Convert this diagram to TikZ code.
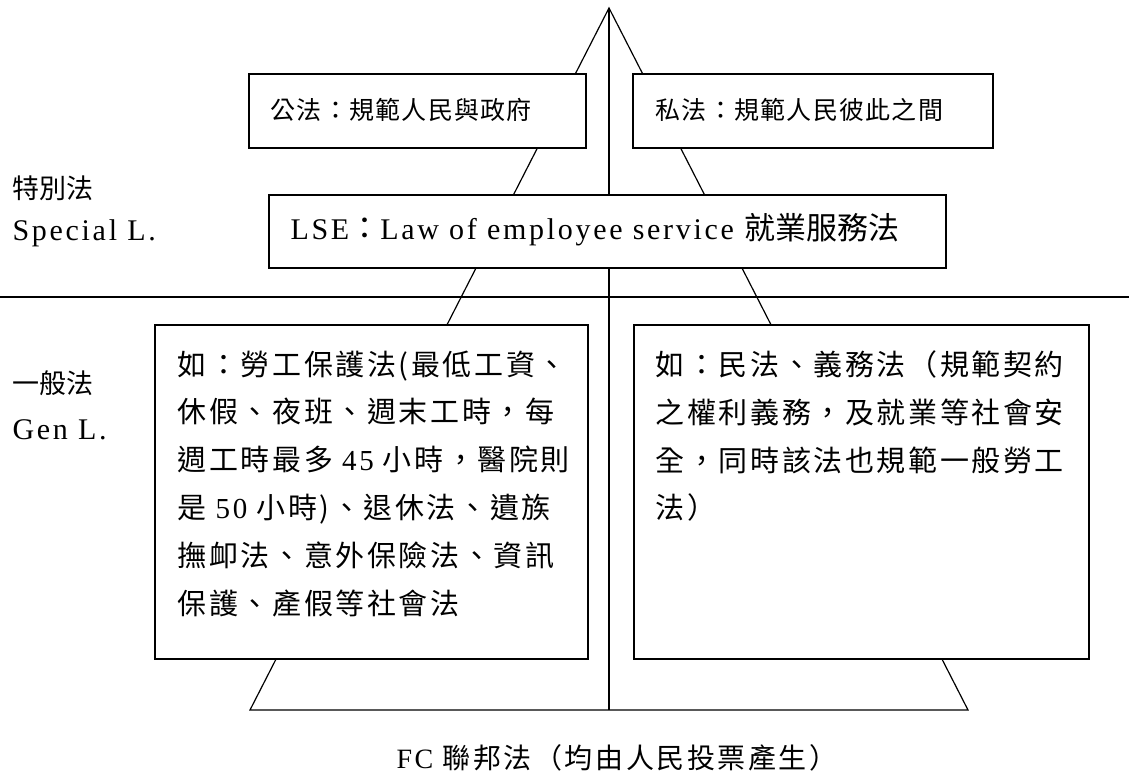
\documentclass[tikz,border=0pt]{standalone}
\usepackage{fontspec}
\setmainfont{Liberation Serif}
\newfontfamily\cjk{Noto Sans CJK TC}
\newfontfamily\cjkA[LetterSpace=5]{Noto Sans CJK TC}
\newfontfamily\cjkB[LetterSpace=9]{Noto Sans CJK TC}
\newfontfamily\cjkW[LetterSpace=9]{Noto Sans CJK TC}
\newfontfamily\lat[LetterSpace=9]{Liberation Serif}
\begin{document}
\begin{tikzpicture}[x=1pt,y=-1pt,line width=1.2pt,
  box/.style={draw,fill=white,line width=2pt,inner sep=0pt,anchor=north west},
  lbl/.style={anchor=west,inner sep=0pt},
  para/.style={anchor=north west,inner sep=0pt,align=left}]
\useasboundingbox (0,0) rectangle (1129,777);
% pyramid
\coordinate (apex) at (609,8);
\coordinate (bl) at (250,710);
\coordinate (br) at (968,710);
\coordinate (bm) at (609,710);
\coordinate (hl) at (0,297);
\coordinate (hr) at (1129,297);
\draw (bl) -- (apex) -- (br) -- cycle;
\draw (apex) -- (bm);
\draw (hl) -- (hr);
% boxes
\node[box,minimum width=337pt,minimum height=74pt] (tl) at (248,73) {};
\node[box,minimum width=360pt,minimum height=74pt] (tr) at (632,73) {};
\node[box,minimum width=677pt,minimum height=73pt] (lse) at (268,194) {};
\node[box,minimum width=433pt,minimum height=334pt] (gl) at (154,324) {};
\node[box,minimum width=455pt,minimum height=334pt] (gr) at (633,324) {};
% texts
\node[lbl,font=\fontsize{25}{29}\cjkA] (tlt) at (270,110) {公法：規範人民與政府};
\node[lbl,font=\fontsize{25}{29}\cjkA] (trt) at (655,110) {私法：規範人民彼此之間};
\node[lbl,font=\fontsize{30}{34}\selectfont] (lset) at (290,230)
  {{\lat LSE}{\fontsize{31}{34}\cjk ：}{\lat Law of employee service }{\fontsize{31}{34}\cjk 就業服務法}};
\node[lbl,font=\fontsize{27}{31}\cjk] (sp1) at (12,188) {特別法};
\node[lbl,font=\fontsize{30}{34}\lat] (sp2) at (12,233) {Special L.};
\node[lbl,font=\fontsize{27}{31}\cjk] (gn1) at (12,383) {一般法};
\node[lbl,font=\fontsize{30}{34}\lat] (gn2) at (12,430) {Gen L.};
\node[para,font=\fontsize{29}{47.8}\cjkW] (glt) at (177,350)
  {如：勞工保護法(最低工資、\\
   休假、夜班、週末工時，每\\
   週工時最多 {\lat 45} 小時，醫院則\\
   是 {\lat 50} 小時)、退休法、遺族\\
   撫卹法、意外保險法、資訊\\
   保護、產假等社會法};
\node[para,font=\fontsize{29}{47.8}\cjkW] (grt) at (655,350)
  {如：民法、義務法（規範契約\\
   之權利義務，及就業等社會安\\
   全，同時該法也規範一般勞工\\
   法）};
\node[lbl,font=\fontsize{28}{32}\selectfont] (fc) at (396,758)
  {{\lat FC }{\cjkB 聯邦法（均由人民投票產生）}};
\end{tikzpicture}
\end{document}
